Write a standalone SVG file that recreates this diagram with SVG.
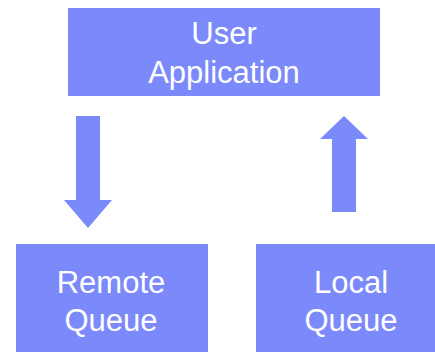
<svg xmlns="http://www.w3.org/2000/svg" width="435" height="352" viewBox="0 0 435 352">
  <style>
    .box { fill: #7b89fb; }
    .arrow { fill: #7b89fb; }
    .label { fill: #ffffff; font-family: "Liberation Sans", Arial, sans-serif; font-size: 31px; text-anchor: middle; }
  </style>
  <rect width="435" height="352" fill="#ffffff"/>
  <g id="user-application">
    <rect class="box" x="68" y="8" width="312" height="88"/>
    <text class="label" x="224" y="44">User</text>
    <text class="label" x="224" y="83">Application</text>
  </g>
  <g id="remote-queue">
    <rect class="box" x="16" y="244" width="192" height="110"/>
    <text class="label" x="111" y="293">Remote</text>
    <text class="label" x="111" y="331">Queue</text>
  </g>
  <g id="local-queue">
    <rect class="box" x="256" y="244" width="192" height="110"/>
    <text class="label" x="351" y="293">Local</text>
    <text class="label" x="351" y="331">Queue</text>
  </g>
  <g id="connectors">
    <!-- block arrow down: application to remote queue -->
    <polygon class="arrow" points="76,116 100,116 100,200 112,200 88,228 64,200 76,200"/>
    <!-- block arrow up: local queue to application -->
    <polygon class="arrow" points="332,212 356,212 356,139 368,139 344,116 320,139 332,139"/>
  </g>
</svg>
